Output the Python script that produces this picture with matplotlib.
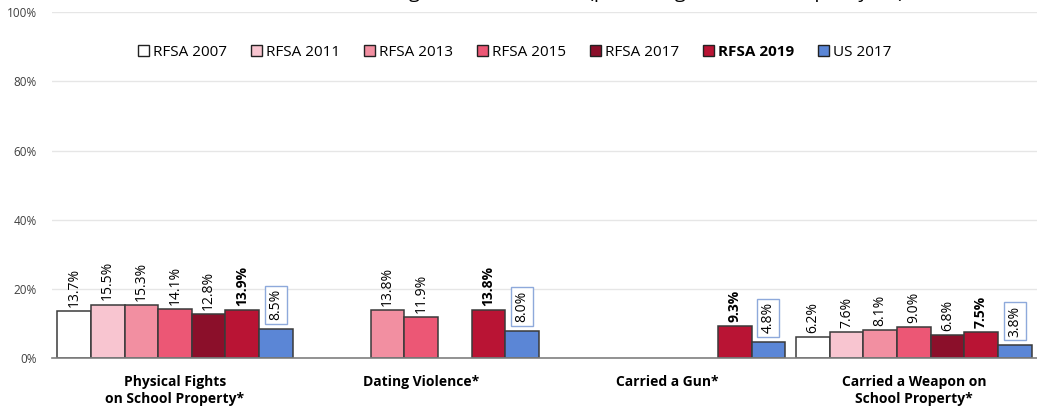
import numpy as np
import matplotlib
matplotlib.use("Agg")
import matplotlib.pyplot as plt
from matplotlib.patches import Patch

plt.rcParams['font.family'] = ['Open Sans', 'DejaVu Sans']

# categories and series (percent); None = no data
categories = ["Physical Fights\non School Property*", "Dating Violence*",
              "Carried a Gun*", "Carried a Weapon on\nSchool Property*"]
series_names = ["RFSA 2007", "RFSA 2011", "RFSA 2013", "RFSA 2015",
                "RFSA 2017", "RFSA 2019", "US 2017"]
rfsa_2007 = [13.7, None, None, 6.2]
rfsa_2011 = [15.5, None, None, 7.6]
rfsa_2013 = [15.3, 13.8, None, 8.1]
rfsa_2015 = [14.1, 11.9, None, 9.0]
rfsa_2017 = [12.8, None, None, 6.8]
rfsa_2019 = [13.9, 13.8, 9.3, 7.5]
us_2017 = [8.5, 8.0, 4.8, 3.8]
all_series = [rfsa_2007, rfsa_2011, rfsa_2013, rfsa_2015, rfsa_2017, rfsa_2019, us_2017]
colors = ["#FFFFFF", "#F8C5D0", "#F28FA1", "#EC5775", "#8B0F2A", "#B91434", "#5B86D6"]

fig = plt.figure(figsize=(10.37, 4.08), dpi=100)
ax = fig.add_axes([0.050, 0.122, 0.950, 0.848])

x = np.arange(len(categories))
w = 0.1365
for i, (vals, col) in enumerate(zip(all_series, colors)):
    for j, v in enumerate(vals):
        if v is None:
            continue
        xp = x[j] + (i - 3) * w
        ax.bar(xp, v, width=w, color=col, edgecolor="#3a3a3a", linewidth=1.1, zorder=3)
        lbl = "%.1f%%" % v
        if i == 6:
            ax.annotate(lbl, (xp, v), xytext=(0, 6), textcoords="offset points",
                        rotation=90, ha="center", va="bottom", fontsize=10,
                        bbox=dict(boxstyle="square,pad=0.25", fc="white", ec="#8EA9DB", lw=1.0),
                        zorder=4)
        else:
            ax.annotate(lbl, (xp, v), xytext=(0, 3), textcoords="offset points",
                        rotation=90, ha="center", va="bottom", fontsize=10,
                        fontweight="bold" if i == 5 else "normal", zorder=4)

ax.set_xlim(-0.5, 3.5)
ax.set_ylim(0, 100)
ax.set_yticks([0, 20, 40, 60, 80, 100])
ax.set_yticklabels(["0%", "20%", "40%", "60%", "80%", "100%"], fontsize=8.5, color="#404040")
ax.set_xticks(x)
ax.set_xticklabels(categories, fontsize=10, fontweight="bold", linespacing=1.25)
ax.tick_params(axis="both", length=0)
ax.tick_params(axis="x", pad=12)
ax.tick_params(axis="y", pad=11)
ax.grid(axis="y", color="#E6E6E6", linewidth=1, zorder=0)
for s in ["top", "right", "left"]:
    ax.spines[s].set_visible(False)
ax.spines["bottom"].set_color("#7F7F7F")
ax.spines["bottom"].set_linewidth(1.2)
ax.spines["bottom"].set_zorder(5)

handles = [Patch(facecolor=c, edgecolor="#222222", linewidth=1.0) for c in colors]
leg = ax.legend(handles, series_names, loc="center", bbox_to_anchor=(0.47, 0.885), ncol=7,
                frameon=False, fontsize=11, handlelength=0.7, handleheight=0.7,
                handletextpad=0.25, columnspacing=1.6)
leg.get_texts()[5].set_fontweight("bold")

fig.text(0.5, 1.016, "Violence-Related Behaviors, High School Students (percentage of students, past year)",
         ha="center", va="center", fontsize=14)

fig.savefig("out.png", dpi=100)
